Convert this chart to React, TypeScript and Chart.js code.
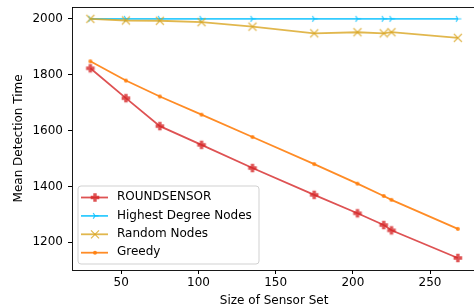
import React, { useEffect, useRef } from "react";
import { Chart, registerables } from "chart.js";

Chart.register(...registerables);

const sensorSetSizes = [30, 53, 75, 102, 135, 175, 203, 220, 225, 268];
const roundSensor = [1823, 1716, 1616, 1549, 1466, 1370, 1304, 1262, 1243, 1144];
const highestDegree = [2000, 2000, 2000, 2000, 2000, 2000, 2000, 2000, 2000, 2000];
const randomNodes = [2000, 1994, 1993, 1988, 1972, 1948, 1952, 1948, 1952, 1932];
const greedy = [1848, 1779, 1722, 1657, 1577, 1480, 1410, 1366, 1352, 1248];

const seriesNames = ["ROUNDSENSOR", "Highest Degree Nodes", "Random Nodes", "Greedy"];
const seriesColors = [
  "rgba(214,39,40,0.8)",
  "rgba(0,191,255,0.8)",
  "rgba(218,165,32,0.8)",
  "rgba(255,127,14,0.9)",
];
const seriesMarkers = ["plus", "tri", "x", "dot"];
const xTickValues = [50, 100, 150, 200, 250];
const yTickValues = [1200, 1400, 1600, 1800, 2000];

const FONT = "'DejaVu Sans', sans-serif";
const FS = 12;

function drawMarker(ctx: CanvasRenderingContext2D, kind: string, x: number, y: number, color: string) {
  ctx.save();
  ctx.fillStyle = color;
  ctx.strokeStyle = color;
  ctx.lineCap = "butt";
  if (kind === "plus") {
    const a = 4.3;
    const b = 1.7;
    ctx.beginPath();
    ctx.moveTo(x - b, y - a);
    ctx.lineTo(x + b, y - a);
    ctx.lineTo(x + b, y - b);
    ctx.lineTo(x + a, y - b);
    ctx.lineTo(x + a, y + b);
    ctx.lineTo(x + b, y + b);
    ctx.lineTo(x + b, y + a);
    ctx.lineTo(x - b, y + a);
    ctx.lineTo(x - b, y + b);
    ctx.lineTo(x - a, y + b);
    ctx.lineTo(x - a, y - b);
    ctx.lineTo(x - b, y - b);
    ctx.closePath();
    ctx.fill();
  } else if (kind === "tri") {
    ctx.lineWidth = 1.2;
    ctx.beginPath();
    ctx.moveTo(x, y);
    ctx.lineTo(x + 3.5, y);
    ctx.moveTo(x, y);
    ctx.lineTo(x - 1.8, y - 2.9);
    ctx.moveTo(x, y);
    ctx.lineTo(x - 1.8, y + 2.9);
    ctx.stroke();
  } else if (kind === "x") {
    ctx.lineWidth = 1.2;
    const s = 4;
    ctx.beginPath();
    ctx.moveTo(x - s, y - s);
    ctx.lineTo(x + s, y + s);
    ctx.moveTo(x - s, y + s);
    ctx.lineTo(x + s, y - s);
    ctx.stroke();
  } else {
    ctx.beginPath();
    ctx.arc(x, y, 2, 0, Math.PI * 2);
    ctx.fill();
  }
  ctx.restore();
}

function markerCanvas(kind: string, color: string): HTMLCanvasElement {
  const c = document.createElement("canvas");
  c.width = 12;
  c.height = 12;
  const ctx = c.getContext("2d")!;
  drawMarker(ctx, kind, 6, 6, color);
  return c;
}

const framePlugin = {
  id: "frameAndLegend",
  afterDatasetsDraw(chart: any) {
    const { ctx, chartArea } = chart;
    ctx.save();
    ctx.strokeStyle = "#000";
    ctx.lineWidth = 0.9;
    ctx.strokeRect(
      Math.round(chartArea.left) + 0.5,
      Math.round(chartArea.top) + 0.5,
      Math.round(chartArea.right) - Math.round(chartArea.left),
      Math.round(chartArea.bottom) - Math.round(chartArea.top)
    );
    // legend
    const lx = 78, ly = 186, lw = 181, lh = 78, r = 3;
    ctx.beginPath();
    ctx.moveTo(lx + r, ly);
    ctx.lineTo(lx + lw - r, ly);
    ctx.quadraticCurveTo(lx + lw, ly, lx + lw, ly + r);
    ctx.lineTo(lx + lw, ly + lh - r);
    ctx.quadraticCurveTo(lx + lw, ly + lh, lx + lw - r, ly + lh);
    ctx.lineTo(lx + r, ly + lh);
    ctx.quadraticCurveTo(lx, ly + lh, lx, ly + lh - r);
    ctx.lineTo(lx, ly + r);
    ctx.quadraticCurveTo(lx, ly, lx + r, ly);
    ctx.closePath();
    ctx.fillStyle = "rgba(255,255,255,0.8)";
    ctx.fill();
    ctx.strokeStyle = "rgba(204,204,204,0.9)";
    ctx.lineWidth = 1;
    ctx.stroke();
    ctx.font = `${FS}px ${FONT}`;
    ctx.textBaseline = "middle";
    ctx.textAlign = "left";
    seriesNames.forEach((name, i) => {
      const y = 197.5 + i * 18.4;
      ctx.strokeStyle = seriesColors[i];
      ctx.lineWidth = 1.8;
      ctx.beginPath();
      ctx.moveTo(81, y);
      ctx.lineTo(108, y);
      ctx.stroke();
      drawMarker(ctx, seriesMarkers[i], 95, y, seriesColors[i]);
      ctx.fillStyle = "#000";
      ctx.fillText(name, 117, y - 0.5);
    });
    ctx.restore();
  },
};

export default function App() {
  const ref = useRef<HTMLCanvasElement | null>(null);
  useEffect(() => {
    document.body.style.margin = "0";
    const seriesData = [roundSensor, highestDegree, randomNodes, greedy];
    const chart = new Chart(ref.current!, {
      type: "line",
      data: {
        datasets: seriesNames.map((name, i) => ({
          label: name,
          data: sensorSetSizes.map((x, j) => ({ x, y: seriesData[i][j] })),
          borderColor: seriesColors[i],
          backgroundColor: seriesColors[i],
          borderWidth: 1.8,
          pointStyle: markerCanvas(seriesMarkers[i], seriesColors[i]),
          pointRadius: 5,
          order: 3 - i,
          fill: false,
          tension: 0,
        })),
      },
      options: {
        animation: false,
        responsive: false,
        devicePixelRatio: 1,
        layout: { padding: { top: 5, left: 0, right: 0, bottom: 0 } },
        plugins: { legend: { display: false }, tooltip: { enabled: false } },
        scales: {
          x: {
            type: "linear",
            min: 18.1,
            max: 279.9,
            afterBuildTicks: (s: any) => {
              s.ticks = xTickValues.map((v) => ({ value: v }));
            },
            afterFit: (s: any) => {
              s.height = 38;
              s.paddingLeft = 0;
              s.paddingRight = 0;
            },
            grid: { display: true, drawOnChartArea: false, drawTicks: true, tickLength: 4, color: "#000" },
            border: { display: false },
            ticks: {
              color: "#000",
              font: { family: FONT, size: FS },
              padding: 2,
              maxRotation: 0,
              callback: (v: any) => String(v),
            },
            title: {
              display: true,
              text: "Size of Sensor Set",
              color: "#000",
              font: { family: FONT, size: FS },
              padding: { top: 0, bottom: 0.3 },
            },
          },
          y: {
            type: "linear",
            min: 1101,
            max: 2043,
            afterBuildTicks: (s: any) => {
              s.ticks = yTickValues.map((v) => ({ value: v }));
            },
            afterFit: (s: any) => {
              s.width = 72;
              s.paddingTop = 0;
              s.paddingBottom = 0;
            },
            grid: { display: true, drawOnChartArea: false, drawTicks: true, tickLength: 4, color: "#000" },
            border: { display: false },
            ticks: {
              color: "#000",
              font: { family: FONT, size: FS },
              padding: 5,
              callback: (v: any) => String(v),
            },
            title: {
              display: true,
              text: "Mean Detection Time",
              color: "#000",
              font: { family: FONT, size: FS },
              padding: { top: 11.3, bottom: 0 },
            },
          },
        },
      },
      plugins: [framePlugin],
    } as any);
    return () => chart.destroy();
  }, []);
  return (
    <div style={{ position: "absolute", left: 0, top: 0, width: 474, height: 308, overflow: "hidden", background: "#fff" }}>
      <canvas ref={ref} width={483} height={308} style={{ width: 483, height: 308, display: "block" }} />
    </div>
  );
}
